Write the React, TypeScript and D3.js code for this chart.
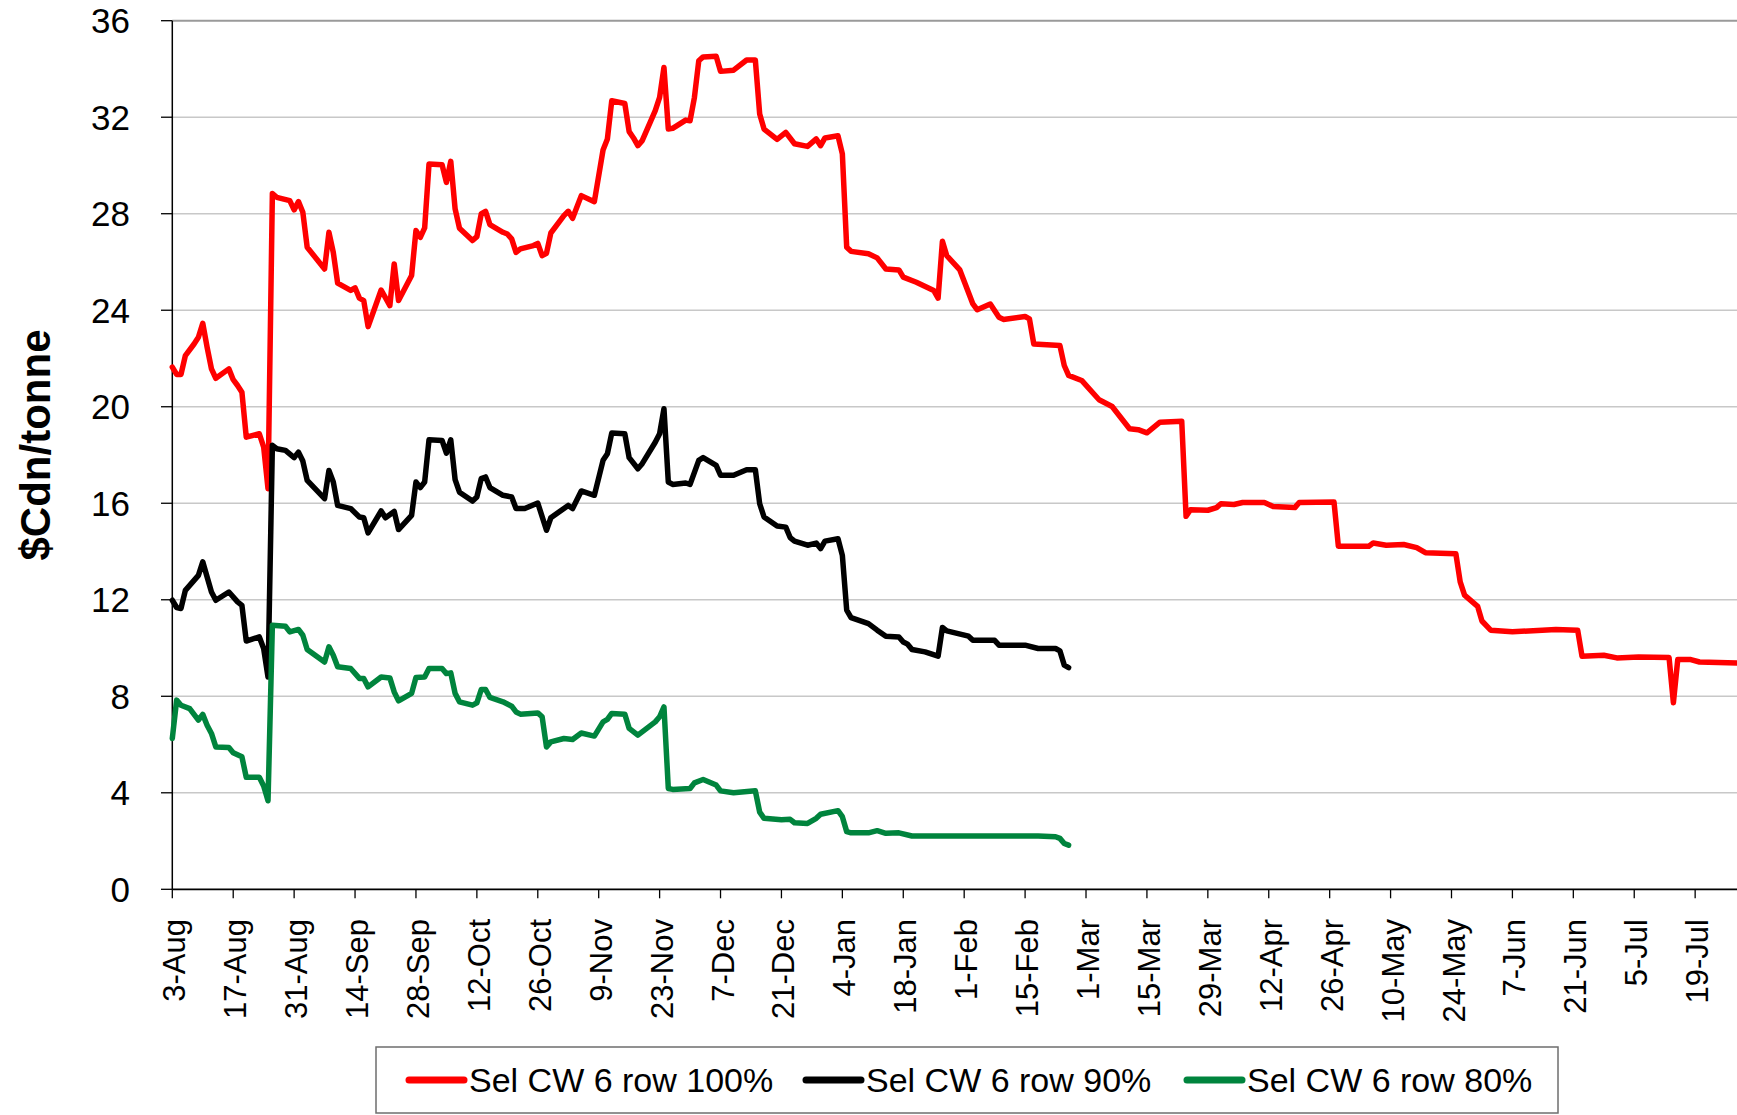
import React from "react";
import * as d3 from "d3";

// ---------- DATA ----------
const START_DATE = "2009-08-03";
const DOMAIN_DAYS = 365;

const xTickLabels = [
  "3-Aug", "17-Aug", "31-Aug", "14-Sep", "28-Sep", "12-Oct", "26-Oct", "9-Nov",
  "23-Nov", "7-Dec", "21-Dec", "4-Jan", "18-Jan", "1-Feb", "15-Feb", "1-Mar",
  "15-Mar", "29-Mar", "12-Apr", "26-Apr", "10-May", "24-May", "7-Jun", "21-Jun",
  "5-Jul", "19-Jul",
];
const xTickStepDays = 14;
const yTicks = [0, 4, 8, 12, 16, 20, 24, 28, 32, 36];
const yTitle = "$Cdn/tonne";

const seriesNames = ["Sel CW 6 row 100%", "Sel CW 6 row 90%", "Sel CW 6 row 80%"];
const seriesColors = ["#FF0000", "#000000", "#00843D"];

// [days since 3-Aug, $Cdn/tonne]
const sel100: [number, number][] = [
  [0, 21.64], [1, 21.34], [2, 21.34], [3, 22.12], [5, 22.6], [6, 22.88], [7, 23.46],
  [8, 22.47], [9, 21.57], [10, 21.18], [13, 21.57], [14, 21.12], [15, 20.88], [16, 20.6],
  [17, 18.74], [20, 18.88], [21, 18.33], [22, 16.6], [23, 28.84], [24, 28.68], [27, 28.54],
  [28, 28.16], [29, 28.5], [30, 28.06], [31, 26.61], [35, 25.71], [36, 27.23], [37, 26.4],
  [38, 25.12], [41, 24.82], [42, 24.93], [43, 24.5], [44, 24.4], [45, 23.32], [48, 24.84],
  [50, 24.19], [51, 25.92], [52, 24.4], [55, 25.44], [56, 27.3], [57, 27.02], [58, 27.41],
  [59, 30.06], [62, 30.03], [63, 29.3], [64, 30.17], [65, 28.2], [66, 27.4], [69, 26.89],
  [70, 27.05], [71, 27.99], [72, 28.1], [73, 27.55], [76, 27.23], [77, 27.16], [78, 26.96],
  [79, 26.4], [80, 26.54], [83, 26.68], [84, 26.77], [85, 26.26], [86, 26.36], [87, 27.2],
  [90, 27.92], [91, 28.1], [92, 27.81], [94, 28.75], [97, 28.5], [99, 30.64], [100, 31.1],
  [101, 32.68], [104, 32.57], [105, 31.4], [106, 31.14], [107, 30.82], [108, 31.03],
  [111, 32.27], [112, 32.82], [113, 34.06], [114, 31.51], [115, 31.54], [118, 31.88],
  [119, 31.85], [120, 32.82], [121, 34.34], [122, 34.5], [125, 34.53], [126, 33.9],
  [129, 33.95], [132, 34.37], [134, 34.37], [135, 32.13], [136, 31.51], [139, 31.08],
  [141, 31.37], [143, 30.9], [146, 30.79], [148, 31.1], [149, 30.82], [150, 31.14],
  [153, 31.23], [154, 30.48], [155, 26.61], [156, 26.44], [160, 26.34], [162, 26.17],
  [164, 25.71], [167, 25.67], [168, 25.37], [171, 25.16], [175, 24.82], [176, 24.5],
  [177, 26.86], [178, 26.26], [181, 25.67], [184, 24.26], [185, 24.02], [188, 24.26],
  [190, 23.71], [191, 23.62], [196, 23.74], [197, 23.64], [198, 22.6], [204, 22.54],
  [205, 21.71], [206, 21.3], [209, 21.09], [213, 20.29], [216, 20.01], [220, 19.09],
  [222, 19.05], [224, 18.92], [227, 19.36], [232, 19.4], [233, 15.46], [234, 15.73],
  [238, 15.71], [240, 15.82], [241, 15.98], [244, 15.95], [246, 16.03], [251, 16.03],
  [253, 15.87], [258, 15.82], [259, 16.03], [267, 16.05], [268, 14.22], [275, 14.22],
  [276, 14.35], [279, 14.26], [283, 14.29], [286, 14.16], [288, 13.95], [295, 13.91],
  [296, 12.74], [297, 12.19], [300, 11.73], [301, 11.12], [303, 10.74], [308, 10.67],
  [318, 10.77], [323, 10.74], [324, 9.66], [329, 9.7], [332, 9.59], [337, 9.63],
  [344, 9.61], [345, 7.73], [346, 9.52], [349, 9.52], [351, 9.42], [360, 9.38], [365, 9.35],
];

const sel90: [number, number][] = [
  [0, 11.98], [1, 11.68], [2, 11.64], [3, 12.39], [6, 13.01], [7, 13.57], [9, 12.32],
  [10, 11.98], [13, 12.32], [15, 11.91], [16, 11.77], [17, 10.29], [20, 10.46], [21, 9.98],
  [22, 8.8], [23, 18.4], [24, 18.26], [26, 18.19], [28, 17.89], [29, 18.12], [30, 17.75],
  [31, 16.95], [35, 16.19], [36, 17.36], [37, 16.88], [38, 15.91], [41, 15.78], [43, 15.43],
  [44, 15.4], [45, 14.77], [48, 15.68], [49, 15.4], [51, 15.66], [52, 14.91], [55, 15.5],
  [56, 16.88], [57, 16.65], [58, 16.88], [59, 18.63], [62, 18.6], [63, 18.08], [64, 18.63],
  [65, 16.98], [66, 16.46], [69, 16.09], [70, 16.26], [71, 17.02], [72, 17.09], [73, 16.65],
  [76, 16.33], [78, 16.26], [79, 15.78], [81, 15.78], [84, 16.01], [86, 14.88], [87, 15.4],
  [91, 15.91], [92, 15.78], [94, 16.51], [97, 16.33], [99, 17.78], [100, 18.05], [101, 18.91],
  [104, 18.88], [105, 17.89], [107, 17.43], [108, 17.64], [111, 18.53], [112, 18.88],
  [113, 19.92], [114, 16.88], [115, 16.78], [118, 16.84], [119, 16.78], [121, 17.78],
  [122, 17.89], [125, 17.57], [126, 17.16], [129, 17.16], [132, 17.39], [134, 17.39],
  [135, 15.98], [136, 15.43], [139, 15.06], [141, 15.01], [142, 14.58], [143, 14.43],
  [146, 14.26], [148, 14.35], [149, 14.12], [150, 14.43], [153, 14.53], [154, 13.84],
  [155, 11.57], [156, 11.26], [160, 11.01], [162, 10.74], [164, 10.49], [167, 10.46],
  [168, 10.25], [169, 10.16], [170, 9.94], [173, 9.84], [176, 9.66], [177, 10.85],
  [178, 10.71], [183, 10.49], [184, 10.32], [189, 10.32], [190, 10.12], [196, 10.12],
  [199, 9.98], [203, 9.98], [204, 9.88], [205, 9.29], [206, 9.19],
];

const sel80: [number, number][] = [
  [0, 6.25], [1, 7.84], [2, 7.63], [4, 7.49], [6, 7.01], [7, 7.25], [8, 6.8], [9, 6.46],
  [10, 5.9], [13, 5.88], [14, 5.66], [16, 5.49], [17, 4.64], [20, 4.64], [21, 4.28],
  [22, 3.67], [23, 10.94], [26, 10.9], [27, 10.67], [29, 10.77], [30, 10.53], [31, 9.94],
  [35, 9.42], [36, 10.05], [37, 9.7], [38, 9.22], [41, 9.15], [43, 8.74], [44, 8.74],
  [45, 8.39], [48, 8.8], [50, 8.76], [51, 8.18], [52, 7.81], [55, 8.12], [56, 8.78],
  [58, 8.8], [59, 9.15], [62, 9.15], [63, 8.94], [64, 8.97], [65, 8.12], [66, 7.77],
  [69, 7.63], [70, 7.73], [71, 8.28], [72, 8.28], [73, 7.95], [76, 7.77], [78, 7.59],
  [79, 7.35], [80, 7.26], [84, 7.31], [85, 7.15], [86, 5.9], [87, 6.11], [90, 6.25],
  [92, 6.21], [94, 6.48], [97, 6.35], [99, 6.94], [100, 7.04], [101, 7.29], [104, 7.26],
  [105, 6.67], [107, 6.39], [111, 6.94], [112, 7.15], [113, 7.56], [114, 4.18], [115, 4.14],
  [119, 4.18], [120, 4.41], [122, 4.55], [125, 4.32], [126, 4.08], [129, 4.0], [134, 4.08],
  [135, 3.2], [136, 2.94], [140, 2.88], [142, 2.9], [143, 2.76], [146, 2.73], [148, 2.94],
  [149, 3.11], [153, 3.26], [154, 3.01], [155, 2.39], [156, 2.34], [160, 2.34], [162, 2.43],
  [164, 2.32], [167, 2.34], [170, 2.21], [199, 2.21], [203, 2.18], [204, 2.11], [205, 1.9],
  [206, 1.83],
];

const allSeries = [sel100, sel90, sel80];

// ---------- LAYOUT ----------
const W = 1737;
const H = 1115;
const PLOT_LEFT = 172.3;
const PX_PER_DAY = 4.351;
const PLOT_TOP = 20.7;
const PLOT_BOTTOM = 889.3;
const FONT = "'Liberation Sans', Arial, Helvetica, sans-serif";

const start = new Date(START_DATE + "T00:00:00Z");
const dayToDate = (d: number) => d3.utcDay.offset(start, d);

export default function App() {
  const x = d3
    .scaleUtc()
    .domain([start, dayToDate(DOMAIN_DAYS)])
    .range([PLOT_LEFT, PLOT_LEFT + DOMAIN_DAYS * PX_PER_DAY]);
  const y = d3.scaleLinear().domain([0, 36]).range([PLOT_BOTTOM, PLOT_TOP]);

  const line = d3
    .line<[number, number]>()
    .x((d) => x(dayToDate(d[0])))
    .y((d) => y(d[1]));

  const legendStarts = [409, 806, 1187];
  const sampleLen = 55;

  return (
    <svg
      width={W}
      height={H}
      viewBox={`0 0 ${W} ${H}`}
      style={{ position: "absolute", left: 0, top: 0, background: "#fff", display: "block" }}
      fontFamily={FONT}
    >
      <rect x={0} y={0} width={W} height={H} fill="#fff" />

      {/* gridlines */}
      {yTicks.filter((t) => t > 0 && t < 36).map((t) => (
        <line key={"g" + t} x1={PLOT_LEFT} x2={W + 50} y1={y(t)} y2={y(t)} stroke="#C8C8C8" strokeWidth={1.5} />
      ))}
      {/* plot top border */}
      <line x1={PLOT_LEFT} x2={W + 50} y1={y(36)} y2={y(36)} stroke="#9A9A9A" strokeWidth={2} />

      {/* y ticks & labels */}
      {yTicks.map((t) => (
        <g key={"y" + t}>
          <line x1={161} x2={PLOT_LEFT} y1={y(t)} y2={y(t)} stroke="#000" strokeWidth={1.3} />
          <text x={130} y={y(t)} dy="0.36em" textAnchor="end" fontSize={35} fill="#000">
            {t}
          </text>
        </g>
      ))}

      {/* x ticks & labels */}
      {xTickLabels.map((lab, i) => {
        const px = x(dayToDate(i * xTickStepDays));
        return (
          <g key={"x" + i}>
            <line x1={px} x2={px} y1={PLOT_BOTTOM} y2={PLOT_BOTTOM + 9} stroke="#000" strokeWidth={1.3} />
            <text
              transform={`translate(${px},919) rotate(-90)`}
              dy="0.42em"
              textAnchor="end"
              fontSize={31}
              fill="#000"
            >
              {lab}
            </text>
          </g>
        );
      })}

      {/* axes */}
      <line x1={PLOT_LEFT} x2={PLOT_LEFT} y1={PLOT_TOP} y2={PLOT_BOTTOM} stroke="#000" strokeWidth={1.5} />
      <line x1={PLOT_LEFT} x2={W + 50} y1={PLOT_BOTTOM} y2={PLOT_BOTTOM} stroke="#000" strokeWidth={1.8} />

      {/* series */}
      {allSeries.map((s, i) => (
        <path
          key={"s" + i}
          d={line(s) || ""}
          fill="none"
          stroke={seriesColors[i]}
          strokeWidth={5.5}
          strokeLinejoin="round"
          strokeLinecap="round"
        />
      ))}

      {/* y title */}
      <text
        transform="translate(50,445) rotate(-90)"
        textAnchor="middle"
        fontSize={42}
        fontWeight="bold"
        fill="#000"
      >
        {yTitle}
      </text>

      {/* legend */}
      <rect x={376} y={1047} width={1182} height={66} fill="#fff" stroke="#6E6E6E" strokeWidth={1.5} />
      {seriesNames.map((name, i) => (
        <g key={"l" + i}>
          <line
            x1={legendStarts[i]}
            x2={legendStarts[i] + sampleLen}
            y1={1080}
            y2={1080}
            stroke={seriesColors[i]}
            strokeWidth={7}
            strokeLinecap="round"
          />
          <text x={legendStarts[i] + sampleLen + 5} y={1092} fontSize={34} fill="#000">
            {name}
          </text>
        </g>
      ))}
    </svg>
  );
}
